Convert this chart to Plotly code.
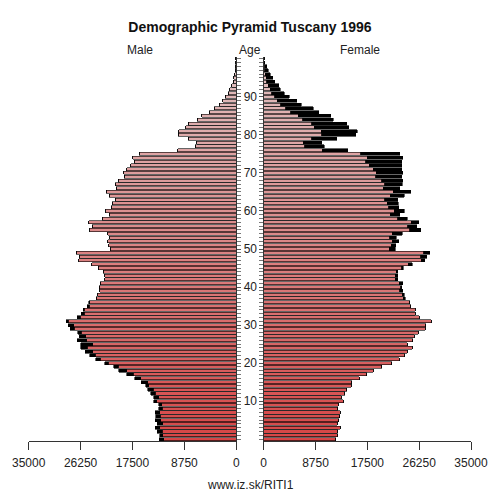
import plotly.graph_objects as go

# population of Tuscany 1996 by single year of age (0..100)
ages = list(range(0, 101))
male = [13000, 12900, 13300, 13650, 13300, 13650, 13600, 13650, 13100, 13100,
        13900, 13900, 14400, 14900, 15300, 16000, 17100, 18500, 19800, 20700,
        22200, 23700, 24700, 25500, 26200, 26200, 26800, 26500, 26700, 28000,
        28300, 28700, 26800, 26100, 25800, 25100, 24900, 23600, 23400, 23000,
        23100, 22900, 22200, 22200, 22400, 23300, 24400, 26600, 26500, 27000,
        21200, 21500, 21700, 21300, 21700, 24700, 24300, 24900, 22600, 21400,
        22000, 21100, 20900, 20400, 21400, 21900, 20200, 20400, 19900, 18900,
        19000, 18500, 17800, 17200, 17500, 16400, 9900, 6900, 6700, 8100,
        9800, 9700, 8500, 8100, 6600, 5800, 4600, 3700, 2900, 2300,
        1900, 1400, 1100, 800, 500, 400, 300, 200, 200, 100, 100]
female = [12200, 12400, 12500, 12900, 12400, 12700, 12800, 12900, 12500, 12600,
          13400, 13100, 13700, 14000, 14800, 14900, 16100, 17400, 18500, 19900,
          21600, 22900, 23800, 24200, 25100, 24200, 25200, 25400, 26100, 27300,
          27400, 28300, 26300, 25600, 25600, 24800, 24700, 23900, 23700, 23500,
          23300, 23500, 22600, 22600, 22600, 23600, 25100, 27200, 27500, 28000,
          22200, 22300, 22800, 22400, 23400, 26500, 25800, 26200, 24200, 23000,
          23700, 22800, 22700, 22600, 23700, 24800, 23000, 23400, 23500, 23300,
          23500, 23300, 23300, 23300, 23500, 23000, 14200, 10200, 9800, 12300,
          15500, 15800, 14400, 14000, 11700, 11300, 9300, 8400, 6300, 5600,
          4300, 3500, 2800, 2500, 1900, 1500, 1100, 800, 500, 200, 100]
ticks_x = [0, 8750, 17500, 26250, 35000]
age_labels = [10, 20, 30, 40, 50, 60, 70, 80, 90]

common = [min(m, f) for m, f in zip(male, female)]
male_extra = [max(0, m - f) for m, f in zip(male, female)]
female_extra = [max(0, f - m) for m, f in zip(male, female)]


def age_color(a):
    t = a / 100
    r = int(215 + 10 * t)
    g = int(70 + 125 * t)
    return f"rgb({r},{g},{g})"


colors = [age_color(a) for a in ages]
outline = dict(color="black", width=0.6)

fig = go.Figure()
fig.add_trace(go.Bar(y=ages, x=common, orientation="h", xaxis="x", yaxis="y",
                     marker=dict(color=colors, line=outline)))
fig.add_trace(go.Bar(y=ages, x=male_extra, orientation="h", xaxis="x", yaxis="y",
                     marker=dict(color="black", line=outline)))
fig.add_trace(go.Bar(y=ages, x=common, orientation="h", xaxis="x2", yaxis="y2",
                     marker=dict(color=colors, line=outline)))
fig.add_trace(go.Bar(y=ages, x=female_extra, orientation="h", xaxis="x2", yaxis="y2",
                     marker=dict(color="black", line=outline)))

xax = dict(tickvals=ticks_x, tickformat="d", ticks="outside", ticklen=8,
           ticklabelstandoff=3, tickcolor="#333", showline=True, linecolor="#333",
           showgrid=False, zeroline=False, automargin=False,
           tickfont=dict(size=12, color="#222"))
yax = dict(range=[-0.5, 100.5], showgrid=False, zeroline=False, showline=True,
           linecolor="#333", ticks="outside", ticklen=4, tickcolor="#555",
           automargin=False,
           minor=dict(tickvals=ages, ticks="outside", ticklen=4, tickcolor="#777"))

# page has an 8px body margin: keep the figure inside the 500px window
W = 484
OFF = 8


def px_x(rx):
    return (rx - OFF) / W


fig.update_layout(
    width=W, height=W, autosize=False,
    margin=dict(l=0, r=0, t=49, b=51, pad=0),
    paper_bgcolor="white", plot_bgcolor="white",
    font=dict(family="Liberation Sans, Arial, sans-serif", color="#222"),
    showlegend=False, barmode="stack", bargap=0.2,
    title=dict(text="<b>Demographic Pyramid Tuscany 1996</b>", x=px_x(250),
               y=1 - 19 / W, xanchor="center", yanchor="middle",
               font=dict(size=14, color="#111")),
    xaxis=dict(domain=[px_x(28.7), px_x(236.3)], range=[35000, 0], anchor="y", **xax),
    xaxis2=dict(domain=[px_x(263.7), px_x(471)], range=[0, 35000], anchor="y2", **xax),
    yaxis=dict(anchor="x", side="right", tickvals=age_labels,
               tickfont=dict(size=12, color="#222"), **yax),
    yaxis2=dict(anchor="x2", side="left", matches="y", showticklabels=False,
                tickvals=age_labels, **yax),
)

for label, rx in [("Male", 140), ("Age", 250), ("Female", 360)]:
    fig.add_annotation(text=label, x=px_x(rx), y=1.018, xref="paper", yref="paper",
                       xanchor="center", yanchor="middle", showarrow=False,
                       font=dict(size=12))
fig.add_annotation(text="www.iz.sk/RITI1", x=px_x(250), y=-0.1146, xref="paper",
                   yref="paper", xanchor="center", yanchor="middle",
                   showarrow=False, font=dict(size=12))

fig.write_html("out.html")
